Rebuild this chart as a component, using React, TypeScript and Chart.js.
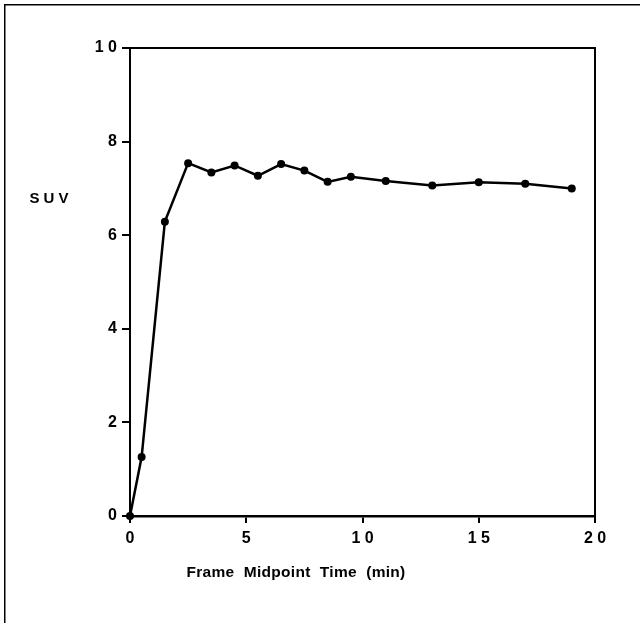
import React, { useEffect, useRef } from "react";
import { Chart, registerables } from "chart.js";

Chart.register(...registerables);

const timeMin = [0, 0.5, 1.5, 2.5, 3.5, 4.5, 5.5, 6.5, 7.5, 8.5, 9.5, 11, 13, 15, 17, 19];
const suvValues = [0, 1.26, 6.29, 7.54, 7.34, 7.49, 7.27, 7.52, 7.38, 7.14, 7.25, 7.16, 7.06, 7.13, 7.1, 7.0];
const xTicks = [0, 5, 10, 15, 20];
const yTicks = [0, 2, 4, 6, 8, 10];
const xTitle = "Frame  Midpoint  Time  (min)";
const yTitle = "SUV";

const FONT = "'Liberation Sans', Arial, sans-serif";

const spaced = (v: number) => String(v).split("").join(" ");

const framePlugin = {
  id: "framePlugin",
  afterDraw(chart: any) {
    const { ctx, chartArea } = chart;
    ctx.save();
    ctx.fillStyle = "#000";
    ctx.fillRect(4, 4, 636, 1.5);
    ctx.fillRect(4, 4, 1.5, 619);
    ctx.strokeStyle = "#000";
    ctx.lineWidth = 2;
    ctx.beginPath();
    ctx.moveTo(chartArea.left - 1, chartArea.top);
    ctx.lineTo(chartArea.right, chartArea.top);
    ctx.lineTo(chartArea.right, chartArea.bottom + 7);
    ctx.stroke();
    ctx.fillStyle = "#000";
    ctx.textAlign = "center";
    ctx.textBaseline = "middle";
    ctx.font = `bold 15px ${FONT}`;
    (ctx as any).letterSpacing = "4px";
    ctx.fillText(yTitle, 51, 199);
    (ctx as any).letterSpacing = "0.3px";
    ctx.font = `bold 15.5px ${FONT}`;
    ctx.fillText(xTitle, 296, 573);
    ctx.restore();
  },
};

export default function App() {
  const ref = useRef<HTMLCanvasElement | null>(null);
  useEffect(() => {
    if (!ref.current) return;
    const chart = new Chart(ref.current, {
      type: "line",
      data: {
        datasets: [
          {
            data: timeMin.map((x, i) => ({ x, y: suvValues[i] })),
            borderColor: "#000",
            backgroundColor: "#000",
            borderWidth: 2.5,
            pointRadius: 4,
            pointBackgroundColor: "#000",
            pointBorderWidth: 0,
            tension: 0,
            clip: false as any,
          },
        ],
      },
      options: {
        responsive: false,
        animation: false,
        devicePixelRatio: 1,
        layout: { padding: { left: 0, top: 48, right: 45, bottom: 0 } },
        plugins: { legend: { display: false }, tooltip: { enabled: false } },
        scales: {
          x: {
            type: "linear",
            min: 0,
            max: 20,
            afterBuildTicks: (s: any) => {
              s.ticks = xTicks.map((v) => ({ value: v }));
            },
            afterFit: (s: any) => {
              s.height = 623 - 516;
            },
            ticks: {
              callback: (v: any) => spaced(Number(v)),
              color: "#000",
              font: { family: FONT, size: 16, weight: "bold" },
              padding: 6,
              maxRotation: 0,
            },
            grid: { drawOnChartArea: false, drawTicks: true, tickLength: 7, color: "#000", lineWidth: 2 },
            border: { display: true, color: "#000", width: 2.5 },
          },
          y: {
            type: "linear",
            min: 0,
            max: 10,
            afterBuildTicks: (s: any) => {
              s.ticks = yTicks.map((v) => ({ value: v }));
            },
            afterFit: (s: any) => {
              s.width = 130;
            },
            ticks: {
              callback: (v: any) => spaced(Number(v)),
              color: "#000",
              font: { family: FONT, size: 16, weight: "bold" },
              padding: 5,
            },
            grid: { drawOnChartArea: false, drawTicks: true, tickLength: 8, color: "#000", lineWidth: 2 },
            border: { display: true, color: "#000", width: 2 },
          },
        },
      },
      plugins: [framePlugin],
    });
    return () => chart.destroy();
  }, []);
  return (
    <div style={{ position: "fixed", left: 0, top: 0, width: 640, height: 623, background: "#fff" }}>
      <canvas ref={ref} width={640} height={623} style={{ display: "block" }} />
    </div>
  );
}
